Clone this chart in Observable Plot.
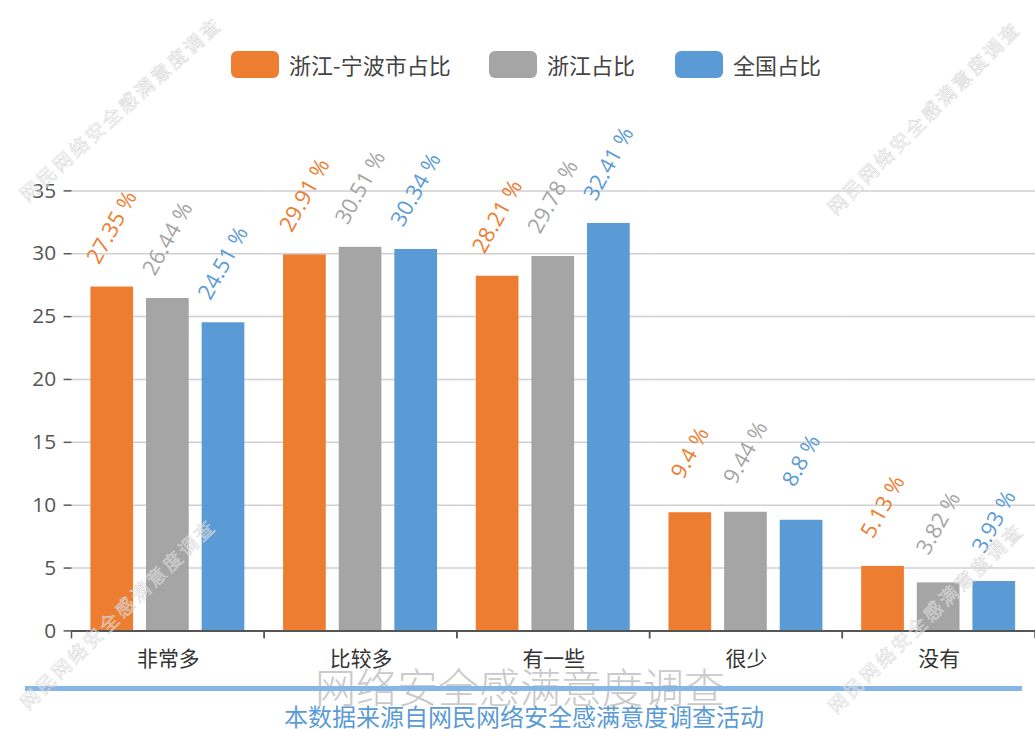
<!DOCTYPE html>
<html><head><meta charset="utf-8">
<script src="https://cdn.jsdelivr.net/npm/d3@7"></script>
<script src="https://cdn.jsdelivr.net/npm/@observablehq/plot@0.6"></script>
<style>
html,body{margin:0;padding:0;background:#fff;overflow:hidden;width:1035px;height:729px;}
body{position:relative;font-family:"Noto Sans CJK SC","Open Sans",sans-serif;}
#legendbox{height:100px;position:relative;}
.li{position:absolute;top:51px;display:flex;align-items:center;height:27px;}
.sw{width:48px;height:27px;border-radius:6px;margin-right:10px;}
.lt{font-size:22px;color:#444;line-height:27px;white-space:nowrap;}
#chart{position:absolute;left:0;top:100px;}
.wm{position:absolute;white-space:nowrap;font-size:19px;letter-spacing:3px;color:rgba(255,255,255,0.35);-webkit-text-stroke:0.5px #d2d2d2;z-index:5;pointer-events:none;}
#ftitle{position:absolute;left:0;width:1040px;text-align:center;top:663px;font-size:41px;line-height:44px;color:#cacaca;font-weight:300;white-space:nowrap;}
#fline{position:absolute;left:25px;width:997px;top:686px;height:5px;background:#86b6e6;}
#fsub{position:absolute;left:0;width:1048px;text-align:center;top:703px;font-size:24px;line-height:26px;color:#5b9bd5;white-space:nowrap;}
</style>
</head>
<body>
<div id="legendbox"></div>
<div id="chart"></div>
<div id="ftitle"></div>
<div id="fline"></div>
<div id="fsub"></div>
<script>
const categories = ["非常多", "比较多", "有一些", "很少", "没有"];
const seriesNames = ["浙江-宁波市占比", "浙江占比", "全国占比"];
const ningbo = [27.35, 29.91, 28.21, 9.4, 5.13];
const zhejiang = [26.44, 30.51, 29.78, 9.44, 3.82];
const national = [24.51, 30.34, 32.41, 8.8, 3.93];
const seriesColors = ["#ED7D31", "#A5A5A5", "#5B9BD5"];
const yTicks = [0, 5, 10, 15, 20, 25, 30, 35];
const footerTitle = "网络安全感满意度调查";
const footerSub = "本数据来源自网民网络安全感满意度调查活动";
const watermarkText = "网民网络安全感满意度调查";

const seriesValues = [ningbo, zhejiang, national];
const rows = [];
seriesValues.forEach((vals, s) => categories.forEach((c, i) => rows.push({category: c, series: seriesNames[s], value: vals[i]})));

// legend
const legendLefts = [231, 489, 675];
const lb = document.getElementById("legendbox");
seriesNames.forEach((name, i) => {
  const it = document.createElement("div");
  it.className = "li";
  it.style.left = legendLefts[i] + "px";
  const sw = document.createElement("div");
  sw.className = "sw";
  sw.style.background = seriesColors[i];
  const t = document.createElement("span");
  t.className = "lt";
  t.textContent = name;
  it.appendChild(sw); it.appendChild(t);
  lb.appendChild(it);
});

const boundaryTicks = (index, scales, values, dims) => {
  const g = d3.create("svg:g");
  const y0 = scales.y(0);
  [dims.marginLeft, dims.width - dims.marginRight].forEach(x => {
    g.append("line").attr("x1", x).attr("x2", x).attr("y1", y0).attr("y2", y0 + 8)
      .attr("stroke", "#555").attr("stroke-width", 1.5);
  });
  return g.node();
};

const chart = Plot.plot({
  width: 1042, height: 572,
  marginTop: 91, marginBottom: 38, marginLeft: 72, marginRight: 0,
  style: {fontFamily: '"Open Sans","Noto Sans CJK SC",sans-serif', background: "transparent", overflow: "visible"},
  fx: {domain: categories, padding: 0, label: null, axis: null},
  x: {domain: seriesNames, paddingInner: 0.232, paddingOuter: 0.348, axis: null},
  y: {domain: [0, 35], label: null},
  color: {domain: seriesNames, range: seriesColors},
  marks: [
    Plot.gridY(yTicks, {stroke: "#cfcfcf", strokeOpacity: 1, strokeWidth: 1.5}),
    Plot.barY(rows, {fx: "category", x: "series", y: "value", fill: "series"}),
    Plot.ruleY([0], {stroke: "#555", strokeWidth: 2}),
    Plot.text(rows, {fx: "category", x: "series", y: "value", text: d => `${d.value} %`, fill: "series",
      rotate: -61, dy: -60, fontSize: 22, textAnchor: "middle", letterSpacing: "2px"}),
    Plot.axisY(yTicks, {tickSize: 8, tickPadding: 8, fontSize: 21, color: "#555", strokeWidth: 1.5, label: null, line: true}),
    Plot.axisFx({anchor: "bottom", tickSize: 0, tickPadding: 20, fontSize: 21, color: "#333", label: null, fontFamily: '"Noto Sans CJK SC",sans-serif'}),
    boundaryTicks
  ]
});
document.getElementById("chart").appendChild(chart);

document.getElementById("ftitle").textContent = footerTitle;
document.getElementById("fsub").textContent = footerSub;

// watermarks
const wms = [[120, 108, -42], [923, 117, -45], [925, 617, -44], [117, 613, -44]];
wms.forEach(([cx, cy, a]) => {
  const d = document.createElement("div");
  d.className = "wm";
  d.textContent = watermarkText;
  d.style.left = cx + "px";
  d.style.top = cy + "px";
  d.style.transform = `translate(-50%,-50%) rotate(${a}deg)`;
  document.body.appendChild(d);
});
</script>
</body></html>
